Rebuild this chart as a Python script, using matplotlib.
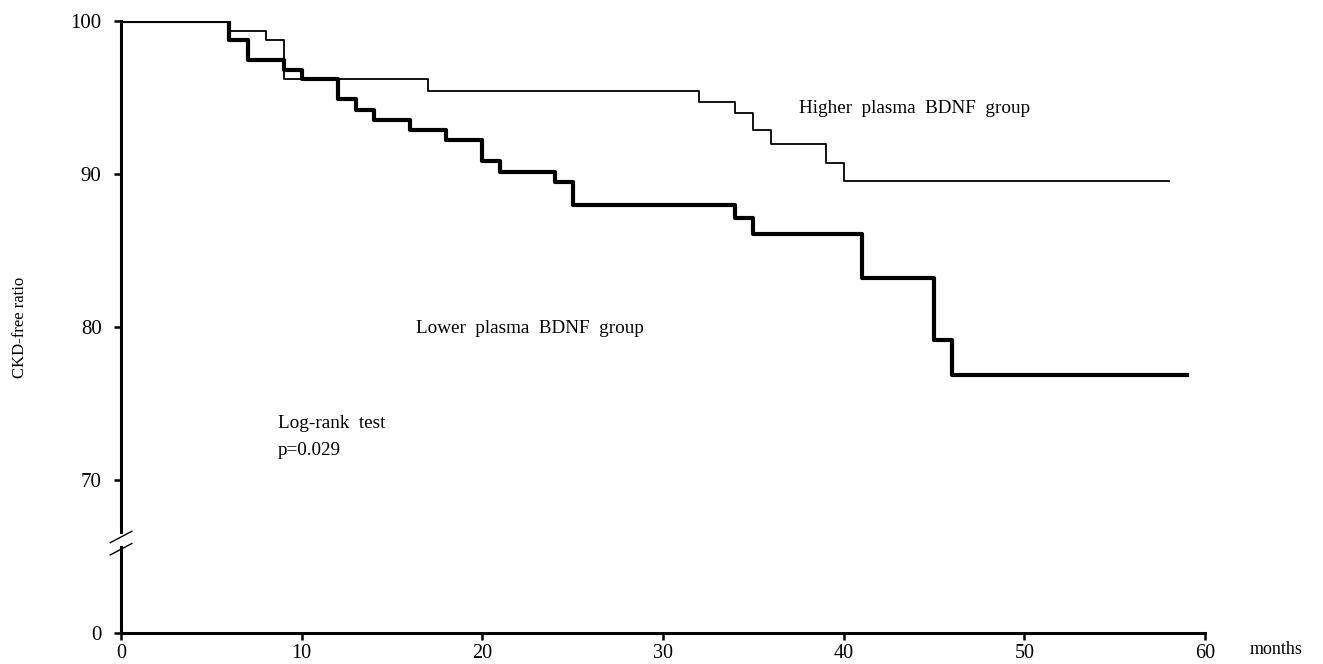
import matplotlib
matplotlib.use("Agg")
import matplotlib.pyplot as plt
import matplotlib.transforms as mtransforms

# Kaplan-Meier steps (month of drop, ratio after drop)
higher_months = [0, 6, 8, 9, 17, 32, 34, 35, 36, 39, 40, 58]
higher_ratio = [100, 99.35, 98.75, 96.2, 95.45, 94.7, 94.0, 92.9, 91.95, 90.75, 89.55, 89.55]

lower_months = [0, 6, 7, 9, 10, 12, 13, 14, 16, 18, 20, 21, 24, 25, 34, 35, 41, 45, 46, 59]
lower_ratio = [100, 98.75, 97.45, 96.8, 96.2, 94.9, 94.2, 93.5, 92.85, 92.2, 90.85, 90.15,
               89.45, 88.0, 87.1, 86.1, 83.2, 79.15, 76.85, 76.85]

x_ticks = [0, 10, 20, 30, 40, 50, 60]
y_ticks = [60, 70, 80, 90, 100]          # 60 is drawn as "0" (broken axis)
y_tick_labels = ["0", "70", "80", "90", "100"]

plt.rcParams['font.family'] = ['Liberation Serif', 'DejaVu Serif']

fig = plt.figure(figsize=(13.23, 6.64), dpi=100)
ax = fig.add_axes([0.0915, 0.0467, 0.8193, 0.9217])

ax.step(higher_months, higher_ratio, where='post', color='black', lw=1.3)
ax.step(lower_months, lower_ratio, where='post', color='black', lw=3.0)

ax.set_xlim(0, 60)
ax.set_ylim(60, 100)
ax.set_xticks(x_ticks)
ax.set_yticks(y_ticks)
ax.set_yticklabels(y_tick_labels)
ax.tick_params(length=5, width=1.8, direction='out')
ax.tick_params(axis='y', labelsize=15, pad=9)
ax.tick_params(axis='x', labelsize=14.5, pad=3)

for s in ['top', 'right']:
    ax.spines[s].set_visible(False)
ax.spines['bottom'].set_linewidth(2.2)
ax.spines['left'].set_visible(False)

# left axis drawn in two pieces with a break
trans = mtransforms.blended_transform_factory(ax.transAxes, ax.transData)
ax.plot([0, 0], [66.6, 100], color='black', lw=2.2, transform=trans, clip_on=False)
ax.plot([0, 0], [60, 65.6], color='black', lw=2.2, transform=trans, clip_on=False)
ax.plot([-0.01, 0.01], [65.9, 66.65], color='black', lw=1.0, transform=trans, clip_on=False)
ax.plot([-0.01, 0.01], [65.1, 65.85], color='black', lw=1.0, transform=trans, clip_on=False)

ax.set_ylabel("CKD-free ratio", fontsize=12)
ax.yaxis.set_label_coords(-0.086, 0.5)
ax.text(62.5, 58.9, "months", fontsize=13, ha='left', va='center', clip_on=False)

ax.text(37.5, 94.25, "Higher  plasma  BDNF  group", fontsize=13.8, ha='left', va='center')
ax.text(16.3, 79.9, "Lower  plasma  BDNF  group", fontsize=13.8, ha='left', va='center')
ax.text(8.7, 73.7, "Log-rank  test", fontsize=13.8, ha='left', va='center')
ax.text(8.7, 71.9, "p=0.029", fontsize=13.8, ha='left', va='center')

fig.savefig("out.png", dpi=100)
